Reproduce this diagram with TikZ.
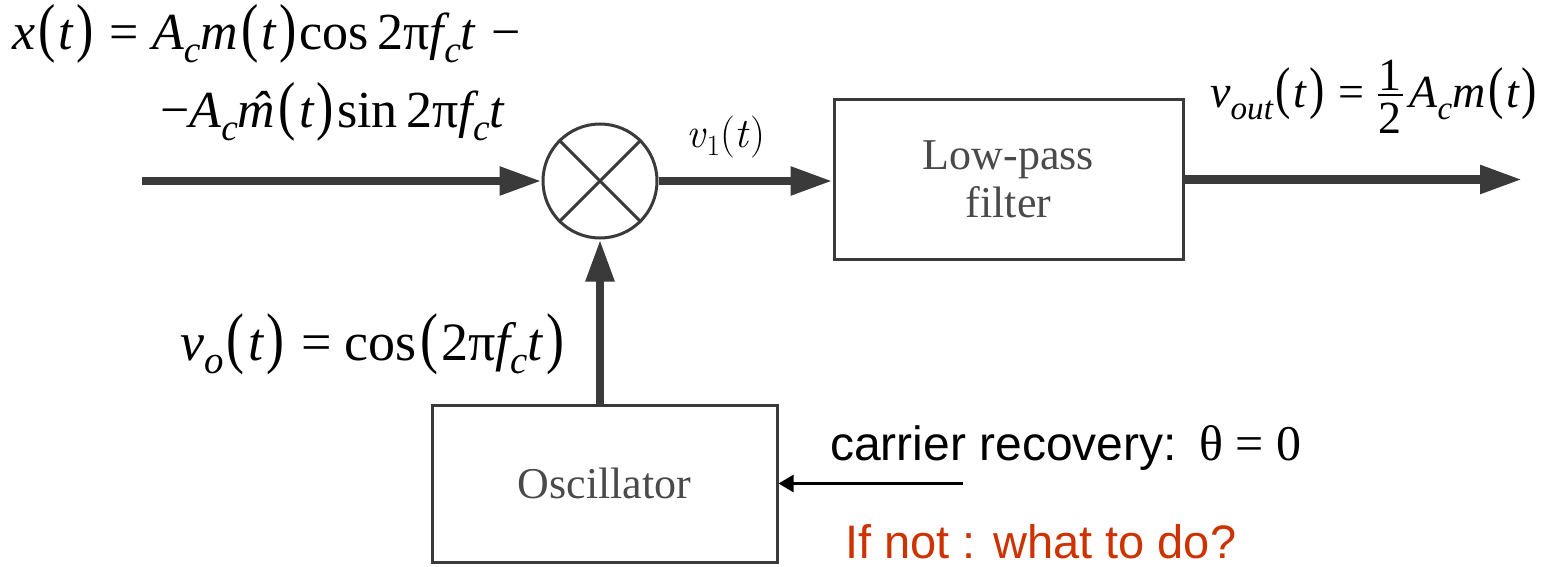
\documentclass[tikz,border=0pt]{standalone}
\usepackage{graphicx}
\usepackage{fontspec}
\setmainfont{Liberation Serif}
\newfontfamily\arialf{Liberation Sans}
\newfontfamily\timesf{Liberation Serif}
\usetikzlibrary{arrows.meta}
\definecolor{linegray}{HTML}{3A3A3A}
\definecolor{textgray}{HTML}{4A4A4A}
\definecolor{warnred}{RGB}{204,51,0}
\newcommand\iv[1]{{\itshape #1}}
\newcommand\sub[1]{\raisebox{-0.25em}{\scalebox{0.72}{\itshape #1}}}
\newcommand\lp{\kern0.06em\scalebox{1}[1.25]{(}\kern0.06em}
\newcommand\rp{\kern0.06em\scalebox{1}[1.25]{)}\kern0.06em}
\newcommand\eqs{\kern0.25em=\kern0.25em}
\newcommand\mhat{\sbox0{\itshape m}\rlap{\usebox0}\makebox[\wd0]{\kern0.12em\itshape ˆ}}
\newcommand\half{\raisebox{0.25em}{\makebox[0.6em]{\rule{0.55em}{0.05em}}\hspace{-0.6em}\raisebox{0.12em}{\makebox[0.6em]{1}}\hspace{-0.6em}\raisebox{-0.81em}{\makebox[0.6em]{2}}}}
\tikzset{
  bigarrow/.style={line width=8.5pt, draw=linegray, -{Triangle[length=42pt,width=27pt]}},
  thinarrow/.style={line width=2.5pt, draw=black, -{Triangle[length=15pt,width=17pt]}},
  block/.style={draw=linegray, line width=3pt, rectangle, inner sep=0pt, text=textgray,
    font=\timesf\fontsize{44}{48}\selectfont, align=center},
  mixer/.style={circle, draw=linegray, line width=3pt, minimum size=114pt, inner sep=0pt},
  formula/.style={anchor=base west, inner sep=0pt, font=\timesf\fontsize{52}{60}\selectfont},
  sanslabel/.style={anchor=base west, inner sep=0pt, font=\arialf\fontsize{48}{54}\selectfont}
}
\begin{document}
\begin{tikzpicture}[x=1pt,y=-1pt]
\useasboundingbox (0,0) rectangle (1549,567);
% blocks
\node[mixer] (mix) at (600,181) {};
\draw[linegray, line width=3pt] (mix.north west) -- (mix.south east)
  (mix.north east) -- (mix.south west);
\node[block, minimum width=349pt, minimum height=159pt] (lpf) at (1008.5,179.5) {Low-pass\\filter};
\node[block, minimum width=345pt, minimum height=157pt] (osc) at (604.5,483.5) {Oscillator};
% coordinates
\coordinate (in) at (142,181);
\coordinate (out) at (1522,179.5);
\coordinate (cr) at (963,483.5);
% connectors
\draw[bigarrow] (in) -- (mix.west);
\draw[bigarrow] (mix.east) -- (mix.east -| lpf.west);
\draw[bigarrow] (lpf.east) -- (out);
\draw[bigarrow] (mix.south |- osc.north) -- (mix.south);
\draw[thinarrow] (cr) -- (osc.east);
% labels
\node[formula] (f1) at (12,50) {\iv{x}\lp\iv{t}\rp\eqs\iv{A}\sub{c}\iv{m}\lp\iv{t}\rp cos\,2π\iv{f}\sub{c}\iv{t}\kern0.3em−};
\node[formula] (f2) at (160,128) {−\iv{A}\sub{c}\mhat\lp\iv{t}\rp sin\,2π\iv{f}\sub{c}\iv{t}};
\node[formula, font=\timesf\fontsize{54}{60}\selectfont] (vo) at (180,360) {\iv{v}\sub{o}\lp\iv{t}\rp\eqs cos\lp 2π\iv{f}\sub{c}\iv{t}\rp};
\node[formula, font=\timesf\fontsize{46}{52}\selectfont] (vout) at (1210,108)
  {\iv{v}\sub{out}\lp\iv{t}\rp\eqs\half\kern0.12em\iv{A}\sub{c}\iv{m}\lp\iv{t}\rp};
\node[anchor=base west, inner sep=0pt, font=\fontfamily{lmr}\fontsize{42}{48}\selectfont] (v1) at (686,147)
  {\textit{v}\raisebox{-0.2em}{\scalebox{0.7}{1}}(\textit{t})};
\node[sanslabel] (car) at (830,460) {carrier recovery:};
\node[anchor=base west, inner sep=0pt, font=\timesf\fontsize{50}{56}\selectfont] (theta) at ([xshift=22pt]car.base east) {θ\eqs 0};
\node[sanslabel, text=warnred, font=\arialf\fontsize{47}{52}\selectfont] (ifnot) at (845,558) {If not : what to do?};
\end{tikzpicture}
\end{document}
